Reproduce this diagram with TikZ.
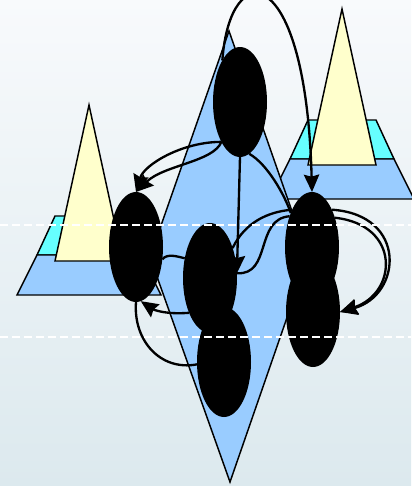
\documentclass[tikz,border=0pt]{standalone}
\usetikzlibrary{shapes.geometric,arrows.meta}

\definecolor{skyblue}{HTML}{99CCFF}
\definecolor{aqua}{HTML}{66FFFF}
\definecolor{cream}{HTML}{FFFFCC}
\definecolor{bgtop}{HTML}{F8FAFC}
\definecolor{bgbot}{HTML}{DCE9EE}

\tikzset{
  blob/.style={ellipse, fill=black, minimum width=40.5pt, minimum height=82.5pt, inner sep=0pt, outer sep=0pt},
  link/.style={line width=1.75pt},
  arr/.style={link, -{Stealth[length=13pt,width=11.5pt,inset=1.5pt]}},
  plate/.style={draw=black, line width=1.1pt, line join=miter},
  guide/.style={white, line width=1.5pt, dash pattern=on 6pt off 3pt}
}

% cone on its two plates, apex given
\newcommand{\pyramid}[1]{%
  \begin{scope}[shift={(#1)}]
    \draw[plate, fill=aqua] (-34,111) -- (34,111) -- (52,150) -- (-52,150) -- cycle;
    \draw[plate, fill=skyblue] (-52,150) -- (52,150) -- (72,190) -- (-72,190) -- cycle;
    \draw[plate, fill=cream] (0,0) -- (34,156) -- (-34,156) -- cycle;
  \end{scope}}

\begin{document}
\begin{tikzpicture}[x=0.75pt, y=-0.75pt]
  \useasboundingbox (0,0) rectangle (411,486);
  \shade[top color=bgtop, bottom color=bgbot] (0,0) rectangle (411,486);

  \pyramid{89,105}
  \pyramid{342,9}

  \draw[plate, fill=skyblue] (229,31) -- (308,257) -- (230,482) -- (150,257) -- cycle;

  \node[blob] (A) at (240,102) {};
  \node[blob] (B) at (136,247) {};
  \node[blob] (C) at (210,278) {};
  \node[blob] (D) at (224,362) {};
  \node[blob] (E) at (312,247) {};
  \node[blob] (F) at (313,312) {};

  \draw[arr] (A.113) .. controls (230,-45) and (306,-40) .. (E.north);
  \draw[arr] (A.245) .. controls +(-40,0) and +(8,-27) .. (B.north);
  \draw[arr] (A.245) .. controls +(-8,20) and +(28,-27) .. (B.north);
  \draw[arr] (A.south) -- (C.10);
  \draw[link] (A.280) .. controls +(18,10) and +(-6,-18) .. (E.122);
  \draw[link] (C.53) .. controls +(12,-25) and +(-25,2) .. (E.118);
  \draw[link] (E.126) .. controls +(-35,3) and +(35,2) .. (C.10);
  \draw[arr] (E.62) .. controls +(76,5) and +(62,-17) .. (F.east);
  \draw[arr] (E.52) .. controls +(66,7) and +(58,-19) .. (F.east);
  \draw[arr] (C.239) .. controls +(-25,2) and +(12,8) .. (B.275);
  \draw[link] (B.-25) .. controls +(5,-6) and +(-8,-2) .. (C.142);
  \draw[link] (D.185) .. controls +(-37,7) and +(-3,38) .. (B.south);

  % level marks
  \draw[guide] (0,225) -- (411,225);
  \draw[guide] (0,337) -- (411,337);
\end{tikzpicture}
\end{document}
